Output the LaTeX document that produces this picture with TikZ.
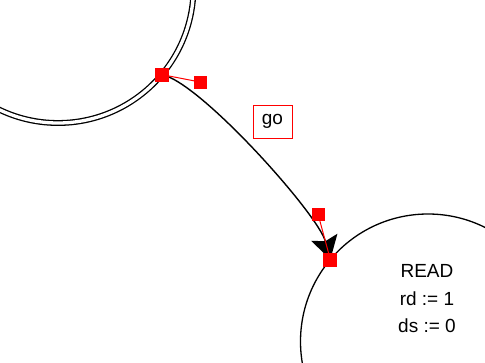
\documentclass[tikz,border=0pt]{standalone}
\usepackage{fontspec}
\setmainfont{Liberation Sans}
\usetikzlibrary{arrows.meta}

\begin{document}
\begin{tikzpicture}[x=1pt,y=-1pt,
  state/.style={circle,draw,line width=1.3pt,inner sep=0pt,outer sep=0pt},
  knob/.style={rectangle,fill=red,inner sep=0pt,minimum size=13pt},
  handle/.style={red,line width=1pt},
  guard/.style={rectangle,draw=red,line width=1pt,inner sep=0pt,
    minimum width=39pt,minimum height=33pt,font=\fontsize{19}{23}\selectfont}]
\useasboundingbox (0,0) rectangle (485,362);
\begin{scope}
\clip (0,0) rectangle (485,362);
\node[state,double,double distance=3.3pt,minimum size=271pt] (idle) at (58,-12.5) {};
\node[state,minimum size=255pt] (read) at (428,341.5) {};
\end{scope}
\node[font=\fontsize{19}{27.5}\selectfont,align=center] (readtxt) at (427,298.7)
  {READ\\rd := 1\\ds := 0};

% transition and its bezier handles
\coordinate (src) at (idle.-40);
\coordinate (dst) at (read.140);
\coordinate (c1) at (200,82);
\coordinate (c2) at (318,214);
\draw[line width=1.4pt,-{Stealth[length=23pt,width=27pt,inset=4pt]}]
  (src) .. controls (c1) and (c2) .. (dst);
\node[guard] (go) at (272.5,121.5) {go};
\draw[handle] (src) -- (c1);
\draw[handle] (dst) -- (c2);
\node[knob,minimum size=14pt] (k0) at (src) {};
\node[knob] (k1) at (c1) {};
\node[knob] (k2) at (c2) {};
\node[knob,minimum size=14pt] (k3) at (dst) {};
\end{tikzpicture}
\end{document}
